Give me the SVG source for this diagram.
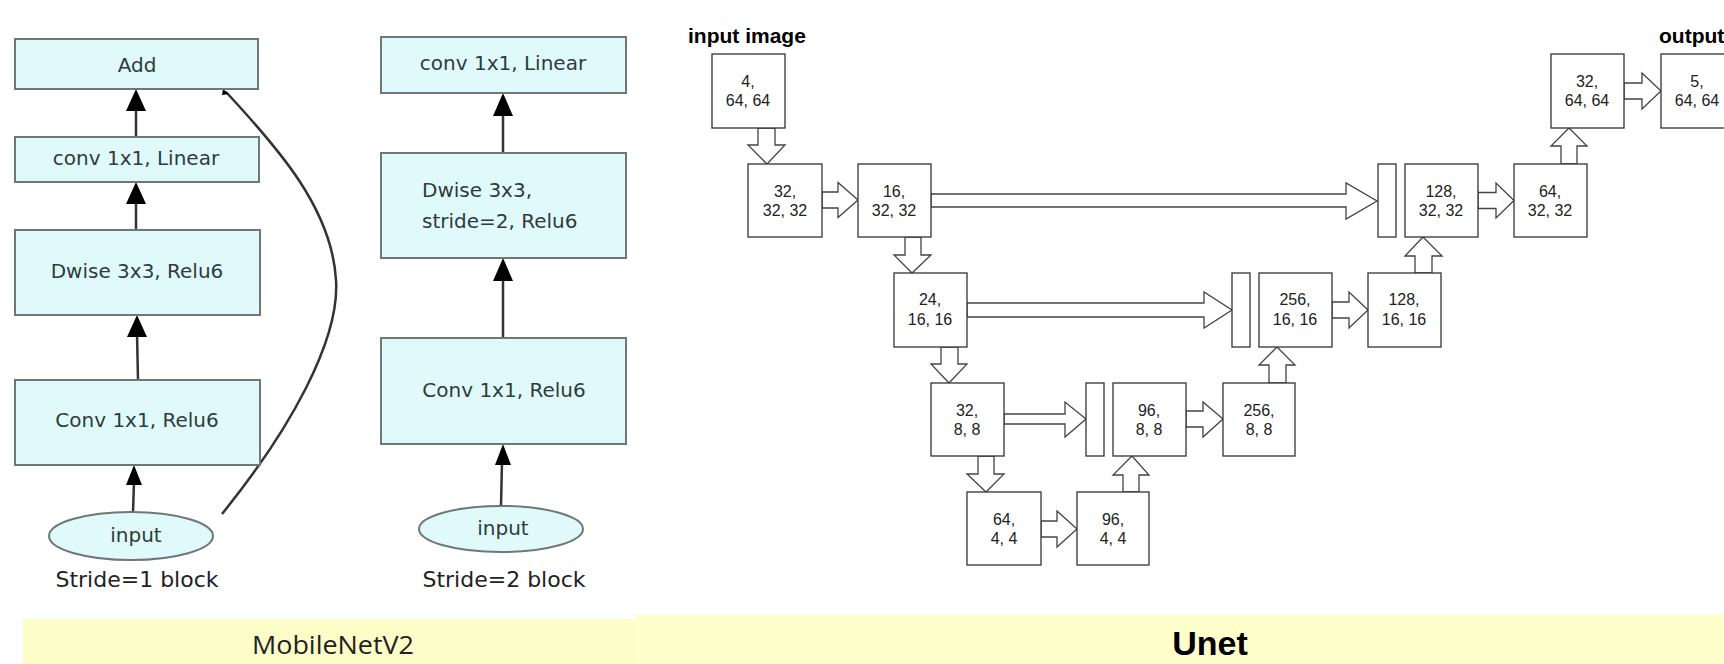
<svg xmlns="http://www.w3.org/2000/svg" width="1724" height="664" viewBox="0 0 1724 664">
<style>
.mb{fill:#e0fafc;stroke:#6f7778;stroke-width:2}
.mt{font-family:"DejaVu Sans",sans-serif;font-size:20px;fill:#2f3b3d}
.st{font-family:"DejaVu Sans",sans-serif;font-size:22px;fill:#222}
.ln{stroke:#333;stroke-width:2.5;fill:none}
.ah{fill:#000}
.ub{fill:#fff;stroke:#333;stroke-width:1.3}
.ut{font-family:"Liberation Sans",Arial,sans-serif;font-size:16px;fill:#222;text-anchor:middle}
.ua{fill:#fff;stroke:#444;stroke-width:1.3}
.lbl{font-family:"Liberation Sans",Arial,sans-serif;font-size:21px;font-weight:bold;fill:#000}
</style>
<rect x="0" y="0" width="1724" height="664" fill="#fff"/>
<rect x="23" y="619" width="613" height="45" fill="#fdfdc8"/>
<rect x="636" y="615" width="1088" height="49" fill="#ffffcc"/>
<text x="333" y="654" text-anchor="middle" font-family="Open Sans,sans-serif" font-size="25" fill="#222" textLength="162" lengthAdjust="spacingAndGlyphs">MobileNetV2</text>
<text x="1210" y="655" text-anchor="middle" font-family="Liberation Sans,Arial,sans-serif" font-size="34" font-weight="bold" fill="#000">Unet</text>

<g id="mobilenet-connectors">
<line class="ln" x1="136" y1="137" x2="136" y2="108"/>
<polygon class="ah" points="136,89 126,111 146,111"/>
<line class="ln" x1="136" y1="230" x2="136" y2="200"/>
<polygon class="ah" points="136,182 126,204 146,204"/>
<line class="ln" x1="138" y1="380" x2="137" y2="333"/>
<polygon class="ah" points="137,315 127,337 147,337"/>
<line class="ln" x1="133" y1="512" x2="134" y2="482"/>
<polygon class="ah" points="134,465 126,485 142,485"/>
<path class="ln" d="M222,514 C290,430 340,340 336,280 C332,210 280,150 226,92" stroke-width="2"/>
<polygon class="ah" points="223,89 229,94 222,95"/>
<line class="ln" x1="503" y1="153" x2="503" y2="112"/>
<polygon class="ah" points="503,93 493,116 513,116"/>
<line class="ln" x1="503" y1="338" x2="503" y2="277"/>
<polygon class="ah" points="503,258 493,281 513,281"/>
<line class="ln" x1="501" y1="506" x2="502" y2="462"/>
<polygon class="ah" points="503,444 495,465 511,465"/>
</g>

<g id="m-add"><rect class="mb" x="15" y="39" width="243" height="50"/><text class="mt" x="137" y="72" text-anchor="middle">Add</text></g>
<g id="m-conv-linear-1"><rect class="mb" x="15" y="137" width="244" height="45"/><text class="mt" x="136" y="165" text-anchor="middle">conv 1x1, Linear</text></g>
<g id="m-dwise-1"><rect class="mb" x="15" y="230" width="245" height="85"/><text class="mt" x="137" y="278" text-anchor="middle">Dwise 3x3, Relu6</text></g>
<g id="m-conv-relu-1"><rect class="mb" x="15" y="380" width="245" height="85"/><text class="mt" x="137" y="427" text-anchor="middle">Conv 1x1, Relu6</text></g>
<g id="m-input-1"><ellipse class="mb" cx="131" cy="536" rx="82" ry="24"/><text class="mt" x="136" y="542" text-anchor="middle">input</text></g>
<g id="m-label-1"><text class="st" x="137" y="587" text-anchor="middle">Stride=1 block</text></g>

<g id="m-conv-linear-2"><rect class="mb" x="381" y="37" width="245" height="56"/><text class="mt" x="503" y="70" text-anchor="middle">conv 1x1, Linear</text></g>
<g id="m-dwise-2"><rect class="mb" x="381" y="153" width="245" height="105"/><text class="mt" x="422" y="197">Dwise 3x3,</text><text class="mt" x="422" y="228">stride=2, Relu6</text></g>
<g id="m-conv-relu-2"><rect class="mb" x="381" y="338" width="245" height="106"/><text class="mt" x="504" y="397" text-anchor="middle">Conv 1x1, Relu6</text></g>
<g id="m-input-2"><ellipse class="mb" cx="501" cy="529" rx="82" ry="23"/><text class="mt" x="503" y="535" text-anchor="middle">input</text></g>
<g id="m-label-2"><text class="st" x="504" y="587" text-anchor="middle">Stride=2 block</text></g>

<text class="lbl" x="688" y="43">input image</text>
<text class="lbl" x="1659" y="43" font-size="20">output</text>

<g id="unet-connectors">
<polygon class="ua" points="822,192 838,192 838,182.5 858,200 838,217.5 838,208 822,208"/>
<polygon class="ua" points="931,194 1346,194 1346,183 1377,201 1346,219 1346,207 931,207"/>
<polygon class="ua" points="1478,192.5 1496,192.5 1496,183 1514,200.5 1496,218 1496,208.5 1478,208.5"/>
<polygon class="ua" points="1624,83 1642,83 1642,73 1661,91 1642,109 1642,99 1624,99"/>
<polygon class="ua" points="967,303 1204,303 1204,292 1232,310 1204,328 1204,317 967,317"/>
<polygon class="ua" points="1332,302 1349,302 1349,292 1368,310 1349,328 1349,318 1332,318"/>
<polygon class="ua" points="1004,414 1065,414 1065,402 1086,419 1065,437 1065,424 1004,424"/>
<polygon class="ua" points="1186,411 1203,411 1203,402 1223,419 1203,437 1203,427 1186,427"/>
<polygon class="ua" points="1041,521 1057,521 1057,511 1077,529 1057,547 1057,537 1041,537"/>
<polygon class="ua" points="758,128 758,145 748,145 767,164 785,145 775,145 775,128"/>
<polygon class="ua" points="905,237 905,255 894,255 912,273 931,255 921,255 921,237"/>
<polygon class="ua" points="941,347 941,364 931,364 949,383 967,364 958,364 958,347"/>
<polygon class="ua" points="978,456 978,474 967,474 986,492 1004,474 994,474 994,456"/>
<polygon class="ua" points="1123,492 1123,475 1113,475 1132,456 1149,475 1139,475 1139,492"/>
<polygon class="ua" points="1269,383 1269,365 1259,365 1277,347 1295,365 1286,365 1286,383"/>
<polygon class="ua" points="1415,273 1415,256 1405,256 1423,237 1442,256 1432,256 1432,273"/>
<polygon class="ua" points="1561,164 1561,146 1551,146 1569,128 1587,146 1577,146 1577,164"/>
</g>

<g id="u-in"><rect class="ub" x="712" y="54" width="73" height="74"/><text class="ut" x="748" y="87">4,</text><text class="ut" x="748" y="106">64, 64</text></g>
<g id="u-e1"><rect class="ub" x="748" y="164" width="74" height="73"/><text class="ut" x="785" y="197">32,</text><text class="ut" x="785" y="216">32, 32</text></g>
<g id="u-e2"><rect class="ub" x="858" y="164" width="73" height="73"/><text class="ut" x="894" y="197">16,</text><text class="ut" x="894" y="216">32, 32</text></g>
<g id="u-e3"><rect class="ub" x="894" y="273" width="73" height="74"/><text class="ut" x="930" y="305">24,</text><text class="ut" x="930" y="325">16, 16</text></g>
<g id="u-e4"><rect class="ub" x="931" y="383" width="73" height="73"/><text class="ut" x="967" y="416">32,</text><text class="ut" x="967" y="435">8, 8</text></g>
<g id="u-e5"><rect class="ub" x="967" y="492" width="74" height="73"/><text class="ut" x="1004" y="525">64,</text><text class="ut" x="1004" y="544">4, 4</text></g>
<g id="u-d1"><rect class="ub" x="1077" y="492" width="72" height="73"/><text class="ut" x="1113" y="525">96,</text><text class="ut" x="1113" y="544">4, 4</text></g>
<g id="u-bar3"><rect class="ub" x="1086" y="383" width="18" height="73"/></g>
<g id="u-d2"><rect class="ub" x="1113" y="383" width="73" height="73"/><text class="ut" x="1149" y="416">96,</text><text class="ut" x="1149" y="435">8, 8</text></g>
<g id="u-d3"><rect class="ub" x="1223" y="383" width="72" height="73"/><text class="ut" x="1259" y="416">256,</text><text class="ut" x="1259" y="435">8, 8</text></g>
<g id="u-bar2"><rect class="ub" x="1232" y="273" width="18" height="74"/></g>
<g id="u-d4"><rect class="ub" x="1259" y="273" width="73" height="74"/><text class="ut" x="1295" y="305">256,</text><text class="ut" x="1295" y="325">16, 16</text></g>
<g id="u-d5"><rect class="ub" x="1368" y="273" width="73" height="74"/><text class="ut" x="1404" y="305">128,</text><text class="ut" x="1404" y="325">16, 16</text></g>
<g id="u-bar1"><rect class="ub" x="1378" y="164" width="18" height="73"/></g>
<g id="u-d6"><rect class="ub" x="1405" y="164" width="73" height="73"/><text class="ut" x="1441" y="197">128,</text><text class="ut" x="1441" y="216">32, 32</text></g>
<g id="u-d7"><rect class="ub" x="1514" y="164" width="73" height="73"/><text class="ut" x="1550" y="197">64,</text><text class="ut" x="1550" y="216">32, 32</text></g>
<g id="u-d8"><rect class="ub" x="1551" y="54" width="73" height="74"/><text class="ut" x="1587" y="87">32,</text><text class="ut" x="1587" y="106">64, 64</text></g>
<g id="u-out"><rect class="ub" x="1661" y="54" width="73" height="74"/><text class="ut" x="1697" y="87">5,</text><text class="ut" x="1697" y="106">64, 64</text></g>
</svg>
